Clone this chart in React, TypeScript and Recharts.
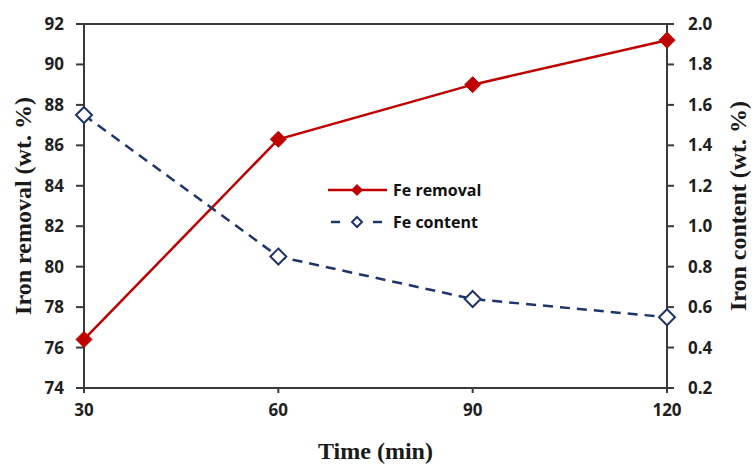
import * as React from 'react'
import { LineChart, Line, XAxis, YAxis, Legend, ReferenceLine } from 'recharts'

// Time on stream (min)
const times = [30, 60, 90, 120]
// Iron removal, left axis (wt. %)
const feRemoval = [76.4, 86.3, 89.0, 91.2]
// Residual iron content, right axis (wt. %)
const feContent = [1.55, 0.85, 0.64, 0.55]

const leftTicks = [74, 76, 78, 80, 82, 84, 86, 88, 90, 92]
const rightTicks = [0.2, 0.4, 0.6, 0.8, 1.0, 1.2, 1.4, 1.6, 1.8, 2.0]

const RED = '#C00000'
const NAVY = '#1F3569'
const AXIS = '#3a3a3a'

const tickFont = {
    fontFamily: '"Open Sans", sans-serif',
    fontWeight: 700,
    fontSize: 17,
    fill: '#1f1f1f',
}
const titleFont = {
    fontFamily: '"Liberation Serif", "Times New Roman", serif',
    fontWeight: 700,
    fontSize: 24,
    fill: '#1a1a1a',
}

function diamondPath(cx: number, cy: number, r: number) {
    return `M${cx},${cy - r}L${cx + r},${cy}L${cx},${cy + r}L${cx - r},${cy}Z`
}

const FilledDiamond = (props: any) => {
    const { cx, cy, index } = props
    if (cx == null || cy == null) return <g key={`fd-${index}`} />
    return <path key={`fd-${index}`} d={diamondPath(cx, cy, 8)} fill={RED} stroke={RED} strokeWidth={1} />
}

const HollowDiamond = (props: any) => {
    const { cx, cy, index } = props
    if (cx == null || cy == null) return <g key={`hd-${index}`} />
    return <path key={`hd-${index}`} d={diamondPath(cx, cy, 8)} fill="#fff" stroke={NAVY} strokeWidth={2} />
}

const LegendBox = () => (
    <svg width={170} height={60} style={{ display: 'block', overflow: 'visible' }}>
        <line x1={3} x2={62} y1={15} y2={15} stroke={RED} strokeWidth={2.5} />
        <path d={diamondPath(32, 15, 6)} fill={RED} />
        <text x={68} y={15} dominantBaseline="central" {...tickFont} fontSize={16} fill="#111">
            Fe removal
        </text>
        <line x1={6} x2={15} y1={47} y2={47} stroke={NAVY} strokeWidth={2.5} />
        <path d={diamondPath(32, 47, 5)} fill="#fff" stroke={NAVY} strokeWidth={2} />
        <line x1={48} x2={57} y1={47} y2={47} stroke={NAVY} strokeWidth={2.5} />
        <text x={68} y={47} dominantBaseline="central" {...tickFont} fontSize={16} fill="#111">
            Fe content
        </text>
    </svg>
)

const LeftTitle = ({ viewBox }: any) => {
    const cy = viewBox.y + viewBox.height / 2
    return (
        <text x={23} y={cy} transform={`rotate(-90, 23, ${cy})`} textAnchor="middle" dominantBaseline="central" {...titleFont}>
            Iron removal (wt. %)
        </text>
    )
}

const RightTitle = ({ viewBox }: any) => {
    const cy = viewBox.y + viewBox.height / 2
    return (
        <text x={738} y={cy} transform={`rotate(-90, 738, ${cy})`} textAnchor="middle" dominantBaseline="central" {...titleFont}>
            Iron content (wt. %)
        </text>
    )
}

const BottomTitle = ({ viewBox }: any) => {
    const cx = viewBox.x + viewBox.width / 2
    return (
        <text x={cx} y={451} textAnchor="middle" dominantBaseline="central" {...titleFont}>
            Time (min)
        </text>
    )
}

export default function App() {
    const data = React.useMemo(
        () => times.map((t, i) => ({ time: t, removal: feRemoval[i], content: feContent[i] })),
        []
    )

    return (
        <div style={{ position: 'absolute', left: 0, top: 0, width: 753, height: 465, background: '#fff' }}>
            <LineChart width={753} height={465} data={data} margin={{ top: 24, right: 26, bottom: 27, left: 24 }}>
                <XAxis
                    dataKey="time"
                    type="number"
                    domain={[30, 120]}
                    ticks={times}
                    stroke={AXIS}
                    strokeWidth={2}
                    tickSize={5}
                    tickMargin={11}
                    tick={tickFont}
                    height={50}
                    label={<BottomTitle />}
                />
                <YAxis
                    yAxisId="left"
                    domain={[74, 92]}
                    ticks={leftTicks}
                    stroke={AXIS}
                    strokeWidth={2}
                    tickSize={8}
                    tickMargin={12}
                    tick={tickFont}
                    width={60}
                    interval={0}
                    label={<LeftTitle />}
                />
                <YAxis
                    yAxisId="right"
                    orientation="right"
                    domain={[0.2, 2.0]}
                    ticks={rightTicks}
                    tickFormatter={(v: number) => v.toFixed(1)}
                    stroke={AXIS}
                    strokeWidth={2}
                    tickSize={7}
                    tickMargin={14}
                    tick={{ ...tickFont, textAnchor: 'start' }}
                    width={60}
                    interval={0}
                    label={<RightTitle />}
                />
                <ReferenceLine yAxisId="left" y={92} stroke={AXIS} strokeWidth={2} />
                <Line
                    yAxisId="left"
                    dataKey="removal"
                    type="linear"
                    stroke={RED}
                    strokeWidth={2.5}
                    dot={FilledDiamond}
                    activeDot={false}
                    isAnimationActive={false}
                />
                <Line
                    yAxisId="right"
                    dataKey="content"
                    type="linear"
                    stroke={NAVY}
                    strokeWidth={2.5}
                    strokeDasharray="10 7"
                    dot={HollowDiamond}
                    activeDot={false}
                    isAnimationActive={false}
                />
                <Legend
                    layout="vertical"
                    align="center"
                    verticalAlign="middle"
                    content={<LegendBox />}
                    wrapperStyle={{ left: 325, top: 175, width: 170, height: 60 }}
                />
            </LineChart>
        </div>
    )
}
